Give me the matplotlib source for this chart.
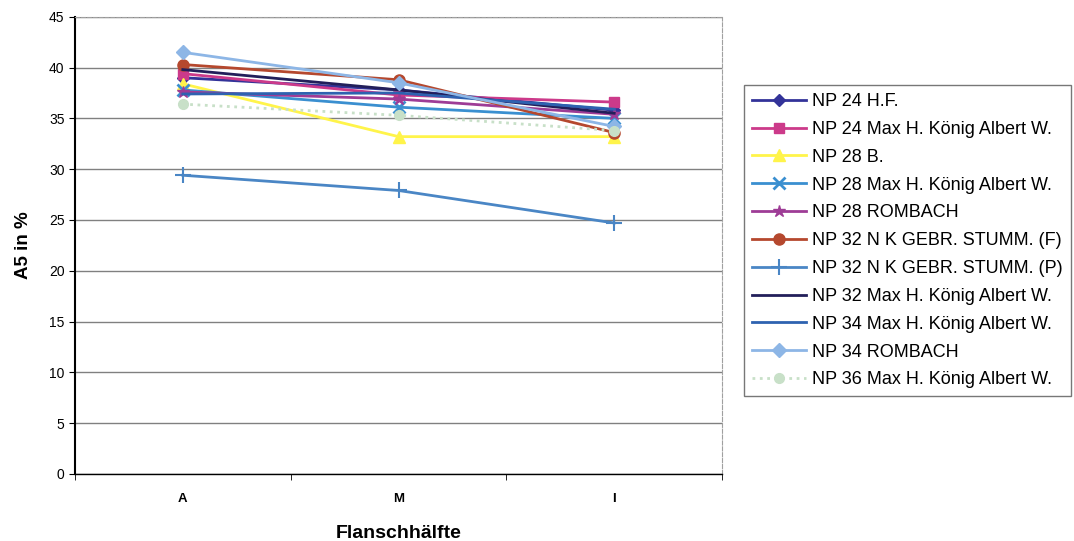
import matplotlib
matplotlib.use("Agg")
import matplotlib.pyplot as plt

plt.rcParams['font.family'] = ['Liberation Sans', 'DejaVu Sans']

# categories (flange halves)
categories = ['A', 'M', 'I']

# series: A5 elongation in %
labels = [
    'NP 24 H.F.',
    'NP 24 Max H. König Albert W.',
    'NP 28 B.',
    'NP 28 Max H. König Albert W.',
    'NP 28 ROMBACH',
    'NP 32 N K GEBR. STUMM. (F)',
    'NP 32 N K GEBR. STUMM. (P)',
    'NP 32 Max H. König Albert W.',
    'NP 34 Max H. König Albert W.',
    'NP 34 ROMBACH',
    'NP 36 Max H. König Albert W.',
]
np24_hf = [39.0, 37.8, 35.8]
np24_max = [39.4, 37.3, 36.6]
np28_b = [38.4, 33.2, 33.2]
np28_max = [37.8, 36.1, 35.0]
np28_rom = [37.6, 36.9, 35.4]
np32_f = [40.3, 38.8, 33.6]
np32_p = [29.4, 27.9, 24.7]
np32_max = [39.8, 37.8, 35.5]
np34_max = [37.4, 37.5, 35.9]
np34_rom = [41.5, 38.5, 34.2]
np36_max = [36.4, 35.3, 33.8]

series = [np24_hf, np24_max, np28_b, np28_max, np28_rom, np32_f,
          np32_p, np32_max, np34_max, np34_rom, np36_max]

styles = [
    dict(color='#333399', marker='D', ms=6, ls='-'),
    dict(color='#CC3A8A', marker='s', ms=7, ls='-'),
    dict(color='#FFF44A', marker='^', ms=8, ls='-'),
    dict(color='#3A8FD0', marker='x', ms=8, mew=2, ls='-'),
    dict(color='#9E3C96', marker='*', ms=9, ls='-'),
    dict(color='#B5482E', marker='o', ms=8, ls='-'),
    dict(color='#4A86C5', marker='+', ms=12, mew=1.5, ls='-'),
    dict(color='#221F5A', marker=None, ls='-'),
    dict(color='#2E62B0', marker=None, ls='-'),
    dict(color='#8DB6E6', marker='D', ms=7, ls='-'),
    dict(color='#C8E0C8', marker='o', ms=7, ls=':'),
]

fig = plt.figure(figsize=(10.74, 5.41), dpi=100)
ax = fig.add_axes([0.0698, 0.124, 0.6025, 0.845])

x = range(len(categories))
for lab, vals, st in zip(labels, series, styles):
    ax.plot(x, vals, label=lab, lw=2, **st)

ax.set_xlim(-0.5, 2.5)
ax.set_ylim(0, 45)
ax.set_yticks(range(0, 46, 5))
ax.set_xticks(list(x))
ax.set_xticklabels(categories, fontweight='bold')
ax.set_xticks([-0.5, 0.5, 1.5, 2.5], minor=True)
ax.tick_params(axis='x', which='major', length=0, pad=14, labelsize=9.5)
ax.tick_params(axis='x', which='minor', length=4)
ax.tick_params(axis='y', labelsize=10, length=4)
ax.yaxis.grid(True, color='#808080', lw=1)
ax.set_axisbelow(True)

for s in ['top', 'right']:
    ax.spines[s].set_color('#A0A0A0')
    ax.spines[s].set_linestyle('--')
    ax.spines[s].set_linewidth(0.8)
ax.spines['left'].set_linewidth(1.5)
ax.spines['bottom'].set_linewidth(1.0)

ax.set_ylabel('A5 in %', fontsize=13.5, fontweight='bold', labelpad=12)
ax.set_xlabel('Flanschhälfte', fontsize=14, fontweight='bold', labelpad=14)

leg = ax.legend(loc='upper left', bbox_to_anchor=(1.034, 0.851), fontsize=13,
                frameon=True, fancybox=False, edgecolor='#555555',
                handlelength=3.0, handletextpad=0.3, labelspacing=0.6,
                borderpad=0.45, borderaxespad=0)
leg.get_frame().set_linewidth(1.0)

fig.savefig('out.png', dpi=100)
